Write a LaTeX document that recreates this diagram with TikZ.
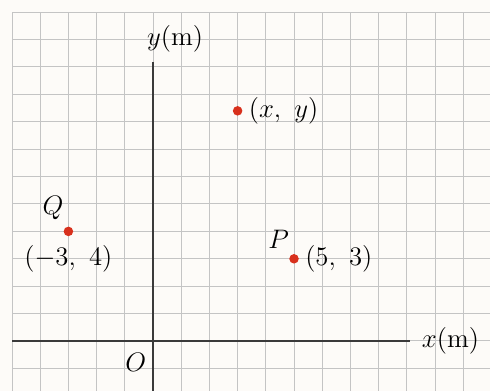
\documentclass[tikz,border=0pt]{standalone}
\usepackage{fix-cm}
\usetikzlibrary{positioning}
\definecolor{paper}{HTML}{FDFBF8}
\definecolor{gridgray}{HTML}{C4C4C4}
\definecolor{axisgray}{HTML}{3A3A3A}
\definecolor{dotred}{HTML}{D8301C}
\tikzset{
  gridline/.style={gridgray,line width=.5pt},
  axisline/.style={axisgray,line width=.8pt},
  ptdot/.style={fill=dotred},
}
\begin{document}
\begin{tikzpicture}[x=0.5cm,y=0.4858cm,every node/.style={font=\fontsize{13.5}{16}\selectfont}]
\useasboundingbox[fill=paper] (-5.426,-1.825) rectangle (11.95,12.445);
% grid
\foreach \i in {-5,...,11}
  \draw[gridline] (\i,-1.825)--(\i,12);
\foreach \j in {-1,...,12}
  \draw[gridline] (-5,\j)--(11.95,\j);
% axes
\coordinate (xstart) at (-5,0);
\coordinate (xend) at (9.1,0);
\coordinate (ystart) at (0,-1.825);
\coordinate (ytop) at (0,10.2);
\coordinate (O) at (0,0);
\draw[axisline] (xstart)--(xend);
\draw[axisline] (ystart)--(ytop);
\node[right=6pt of xend,inner sep=0pt] (xlab) {$x$(m)};
\node[above right=1pt and -6.5pt of ytop] (ylab) {$y$(m)};
\node[below left=2.5pt and 0pt of O] (olab) {$O$};
% points
\coordinate (Q) at (-3,4);
\coordinate (P) at (5,3);
\coordinate (R) at (3,8.4);
\fill[ptdot] (Q) circle (2.4pt);
\fill[ptdot] (P) circle (2.4pt);
\fill[ptdot] (R) circle (2.4pt);
\node[above left=2.5pt and -1pt of Q] (qname) {$Q$};
\node[below=3.5pt of Q] (qxy) {$(-3,\ 4)$};
\node[above left=1.5pt and -1pt of P] (pname) {$P$};
\node[right=5.5pt of P,inner sep=0pt] (pxy) {$(5,\ 3)$};
\node[right=5.5pt of R,inner sep=0pt] (rxy) {$(x,\ y)$};
\end{tikzpicture}
\end{document}
